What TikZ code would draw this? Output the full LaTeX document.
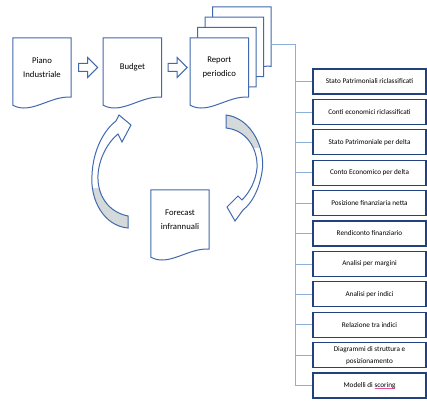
\documentclass[tikz,border=0pt]{standalone}
\usepackage{fontspec}
\setmainfont{Carlito}
\usepackage{tikz}
\usetikzlibrary{positioning,calc,shapes.arrows,backgrounds}
\definecolor{docBlue}{RGB}{65,105,175}
\definecolor{boxNavy}{RGB}{35,65,125}
\definecolor{busBlue}{RGB}{140,175,215}
\definecolor{curlGrey}{RGB}{212,218,218}
\definecolor{spellPink}{RGB}{230,80,160}

\tikzset{
  doc/.style={minimum width=58pt, minimum height=59pt, inner sep=0pt, align=center,
    font=\fontsize{8.7}{14}\selectfont},
  docline/.style={docBlue, line width=1pt, fill=white},
  blockarrow/.style={single arrow, draw=docBlue, line width=1pt, fill=white,
    inner sep=3.5pt, single arrow head extend=6pt, minimum height=19pt},
  outbox/.style={draw=boxNavy, line width=1.1pt, fill=white, minimum width=113pt,
    minimum height=25pt, inner sep=0pt, align=center, font=\fontsize{7.2}{12}\selectfont},
  bus/.style={busBlue, line width=0.7pt},
  curl/.style={docBlue, line width=1pt}
}
\newcommand{\docoutline}[1]{%
  \draw[docline] (#1.south east) -- (#1.north east) -- (#1.north west)
    -- ($(#1.south west)+(0,8)$)
    .. controls ($(#1.south west)+(18,18)$) and ($(#1.south west)+(38,-2)$) .. (#1.south east) -- cycle;}
\newcommand{\spellmark}[1]{\setbox0\hbox{#1}\rlap{\color{spellPink}\rule[-1.6pt]{\wd0}{0.5pt}}\box0}
\newcommand{\leftcurl}{(128,228) .. controls (104,226) and (90,200) .. (92,175)
  .. controls (93,150) and (104,130) .. (116,121) -- (119,115) -- (131,125) -- (122,142) -- (118,134)
  .. controls (108,142) and (99,158) .. (98,175) .. controls (97,195) and (108,212) .. (128,216) -- cycle}
\newcommand{\rightcurl}{(226,115) .. controls (252,118) and (266,150) .. (262,172)
  .. controls (259,190) and (252,203) .. (243,210) -- (235,221) -- (227,207) -- (238,196) -- (242,200)
  .. controls (250,192) and (256,180) .. (257,168) .. controls (258,148) and (246,130) .. (226,128) -- cycle}

\begin{document}
\begin{tikzpicture}[x=1pt, y=-1pt]
  \useasboundingbox (0,0) rectangle (427,401);

  % Documents in the top row
  \node[doc] (piano) at (42,67.5) {Piano\\Industriale};
  \node[blockarrow, right=7pt of piano] (arrA) {};
  \node[doc, right=32pt of piano] (budget) {Budget};
  \node[blockarrow, right=6pt of budget] (arrB) {};
  \node[doc, right=28.5pt of budget] (report) {Report\\periodico};
  \node[doc] (rep1) at ($(report)+(7.5,-10.3)$) {};
  \node[doc] (rep2) at ($(rep1)+(7.5,-10.3)$) {};
  \node[doc] (rep3) at ($(rep2)+(7.5,-10.3)$) {};
  \node[doc] (forecast) at (180,219.5) {Forecast\\infrannuali};

  \begin{scope}[on background layer]
    \fill[white] (0,0) rectangle (427,401);
    \foreach \d in {rep3,rep2,rep1,report,piano,budget,forecast}{
      \docoutline{\d}
    }
  \end{scope}

  % Cycle arrows
  \fill[white] \leftcurl;
  \begin{scope}
    \clip \leftcurl;
    \fill[curlGrey] (80,188) rectangle (140,240);
  \end{scope}
  \draw[curl] \leftcurl;

  \fill[white] \rightcurl;
  \begin{scope}
    \clip \rightcurl;
    \fill[curlGrey] (220,105) rectangle (270,148);
  \end{scope}
  \draw[curl] \rightcurl;

  % Output list
  \foreach \txt [count=\i] in {Stato Patrimoniali riclassificati, Conti economici riclassificati,
      Stato Patrimoniale per delta, Conto Economico per delta, Posizione finanziaria netta,
      Rendiconto finanziario, Analisi per margini, Analisi per indici, Relazione tra indici,
      {Diagrammi di struttura e\\posizionamento}, {Modelli di \spellmark{scoring}}}{
    \node[outbox] (out\i) at (369.5,{81.5+30.4*(\i-1)}) {\txt};
  }

  \coordinate (busTop) at (295,44);
  \draw[bus] (rep3.east |- busTop) -- (busTop) -- (busTop |- out11);
  \foreach \i in {1,...,11}{
    \draw[bus] (busTop |- out\i) -- (out\i.west);
  }
\end{tikzpicture}
\end{document}
